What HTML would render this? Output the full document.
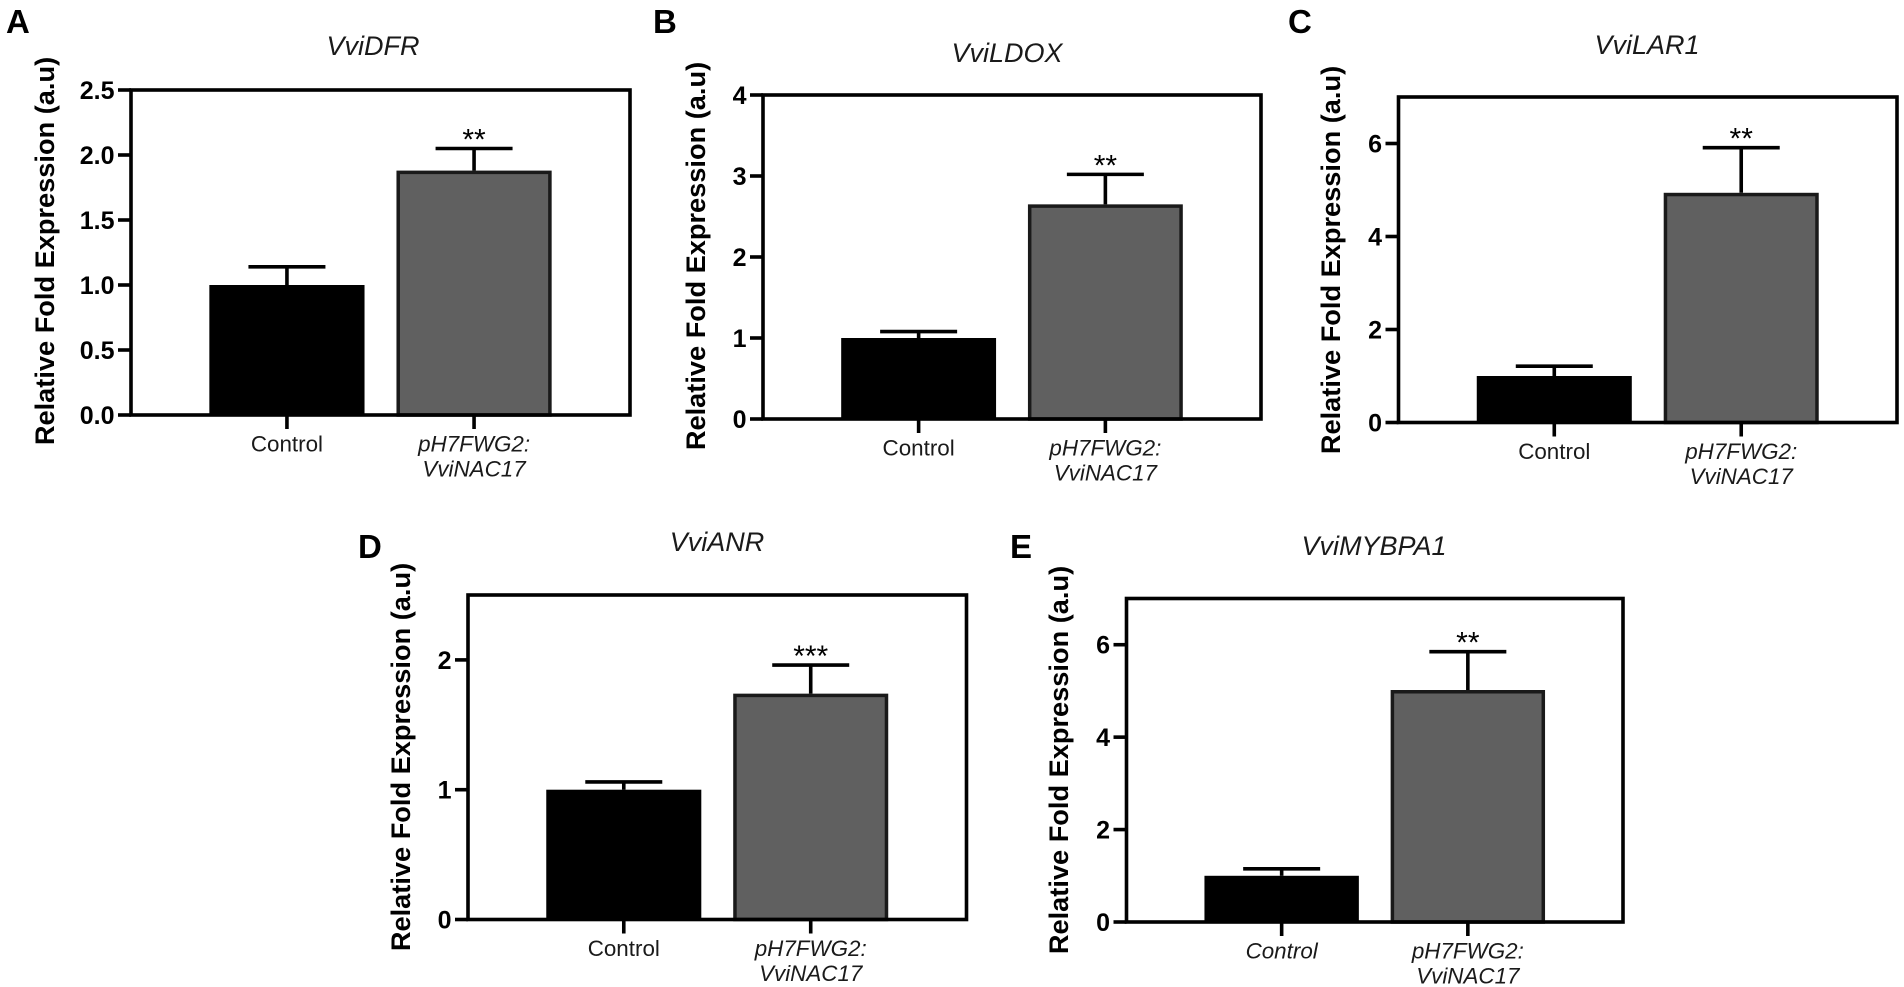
<!DOCTYPE html>
<html lang="en">
<head>
<meta charset="utf-8">
<title>Relative fold expression panels</title>
<style>
html,body{margin:0;padding:0;background:#fff;width:1904px;height:987px;overflow:hidden}
svg{display:block;font-family:"Liberation Sans",sans-serif}
.letter{font-size:33px;font-weight:700;fill:#000}
.title{font-size:27px;font-style:italic;text-anchor:middle;fill:#1a1a1a}
.ytitle{font-size:27.2px;font-weight:700;text-anchor:middle;fill:#000}
</style>
</head>
<body>
<svg id="figure" width="1904" height="987" viewBox="0 0 1904 987" xmlns="http://www.w3.org/2000/svg">
  <rect width="1904" height="987" fill="#fff"/>
  <g id="panel-a">
    <text class="letter" x="6" y="33">A</text>
    <text class="title" x="373" y="55">VviDFR</text>
    <text class="ytitle" transform="translate(54 251) rotate(-90)">Relative Fold Expression (a.u)</text>
  </g>
  <g id="panel-b">
    <text class="letter" x="653" y="33">B</text>
    <text class="title" x="1007" y="62">VviLDOX</text>
    <text class="ytitle" transform="translate(705 256) rotate(-90)">Relative Fold Expression (a.u)</text>
  </g>
  <g id="panel-c">
    <text class="letter" x="1288" y="33">C</text>
    <text class="title" x="1647" y="54">VviLAR1</text>
    <text class="ytitle" transform="translate(1340 260) rotate(-90)">Relative Fold Expression (a.u)</text>
  </g>
  <g id="panel-d">
    <text class="letter" x="358" y="558">D</text>
    <text class="title" x="717" y="551">VviANR</text>
    <text class="ytitle" transform="translate(410 757) rotate(-90)">Relative Fold Expression (a.u)</text>
  </g>
  <g id="panel-e">
    <text class="letter" x="1010" y="558">E</text>
    <text class="title" x="1374" y="555">VviMYBPA1</text>
    <text class="ytitle" transform="translate(1068 760) rotate(-90)">Relative Fold Expression (a.u)</text>
  </g>
</svg>
<script>
const categories = ["Control", "pH7FWG2:|VviNAC17"];

const dfrValues = [1.0, 1.88];
const dfrErrors = [0.14, 0.17];
const dfrTicks = [0, 0.5, 1, 1.5, 2, 2.5];
const dfrTickLabels = ["0.0", "0.5", "1.0", "1.5", "2.0", "2.5"];
const dfrStars = "**";

const ldoxValues = [1.0, 2.65];
const ldoxErrors = [0.08, 0.37];
const ldoxTicks = [0, 1, 2, 3, 4];
const ldoxTickLabels = ["0", "1", "2", "3", "4"];
const ldoxStars = "**";

const lar1Values = [1.0, 4.94];
const lar1Errors = [0.21, 0.97];
const lar1Ticks = [0, 2, 4, 6];
const lar1TickLabels = ["0", "2", "4", "6"];
const lar1Stars = "**";

const anrValues = [1.0, 1.74];
const anrErrors = [0.06, 0.22];
const anrTicks = [0, 1, 2];
const anrTickLabels = ["0", "1", "2"];
const anrStars = "***";

const mybpa1Values = [1.0, 5.02];
const mybpa1Errors = [0.15, 0.83];
const mybpa1Ticks = [0, 2, 4, 6];
const mybpa1TickLabels = ["0", "2", "4", "6"];
const mybpa1Stars = "**";

const SVG_NS = "http://www.w3.org/2000/svg";
const LINE_W = 3.6;

function make(parent, tag, attrs, text) {
  const el = document.createElementNS(SVG_NS, tag);
  for (const k in attrs) el.setAttribute(k, attrs[k]);
  if (text !== undefined) el.textContent = text;
  parent.appendChild(el);
  return el;
}

function drawPanel(id, box, yMax, values, errors, ticks, tickLabels, stars, controlItalic) {
  const g = document.getElementById("panel-" + id);
  const w = box.right - box.left;
  const yScale = v => box.bottom - (v / yMax) * (box.bottom - box.top);
  const xScale = i => box.left + w * (0.3125 + 0.375 * i);
  const barW = w * 0.311;

  values.forEach((v, i) => {
    const cx = xScale(i);
    const bar = make(g, "rect", {
      x: cx - barW / 2 + (i ? 1.75 : 0),
      y: yScale(v) + (i ? 1.75 : 0),
      width: barW - (i ? 3.5 : 0),
      height: box.bottom - yScale(v) - (i ? 1.75 : 0),
      fill: i ? "#606060" : "#000",
      stroke: i ? "#1a1a1a" : "none",
      "stroke-width": i ? 3.5 : 0
    });
    
    

    const topY = yScale(v + errors[i]);
    const stem = make(g, "line", { x1: cx, x2: cx, y1: yScale(v), y2: topY, stroke: "#000", "stroke-width": LINE_W });
    
    

    const cap = make(g, "line", { x1: cx - 38.5, x2: cx + 38.5, y1: topY, y2: topY, stroke: "#000", "stroke-width": LINE_W });
    
    

    if (i === 1) {
      const star = make(g, "text", { x: cx, y: topY + 1, "text-anchor": "middle", "font-size": 30, fill: "#000" }, stars);
      
      
    }

    const xTick = make(g, "line", { x1: cx, x2: cx, y1: box.bottom, y2: box.bottom + 14, stroke: "#000", "stroke-width": LINE_W });
    
    

    const italic = i === 1 || controlItalic;
    categories[i].split("|").forEach((line, n) => {
      const lab = make(g, "text", {
        x: cx, y: box.bottom + 36.5 + n * 25, "text-anchor": "middle",
        "font-size": 22.4, "font-style": italic ? "italic" : "normal", fill: "#1a1a1a"
      }, line);
      
      
    });
  });

  const frame = make(g, "rect", { x: box.left, y: box.top, width: w, height: box.bottom - box.top, fill: "none", stroke: "#000", "stroke-width": LINE_W });
  
  

  ticks.forEach((t, i) => {
    const y = yScale(t);
    const tick = make(g, "line", { x1: box.left - 13, x2: box.left, y1: y, y2: y, stroke: "#000", "stroke-width": LINE_W });
    
    

    const lab = make(g, "text", { x: box.left - 16.5, y: y + 9, "text-anchor": "end", "font-size": 25, "font-weight": 700, fill: "#000" }, tickLabels[i]);
    
    
  });
}

drawPanel("a", { left: 131, right: 630, top: 90, bottom: 415 }, 2.5, dfrValues, dfrErrors, dfrTicks, dfrTickLabels, dfrStars, false);
drawPanel("b", { left: 763, right: 1261, top: 95, bottom: 419 }, 4, ldoxValues, ldoxErrors, ldoxTicks, ldoxTickLabels, ldoxStars, false);
drawPanel("c", { left: 1398.5, right: 1897, top: 97, bottom: 422.5 }, 7, lar1Values, lar1Errors, lar1Ticks, lar1TickLabels, lar1Stars, false);
drawPanel("d", { left: 468, right: 966.5, top: 595, bottom: 919.5 }, 2.5, anrValues, anrErrors, anrTicks, anrTickLabels, anrStars, false);
drawPanel("e", { left: 1126.5, right: 1623, top: 598.5, bottom: 922 }, 7, mybpa1Values, mybpa1Errors, mybpa1Ticks, mybpa1TickLabels, mybpa1Stars, true);
</script>
</body>
</html>
